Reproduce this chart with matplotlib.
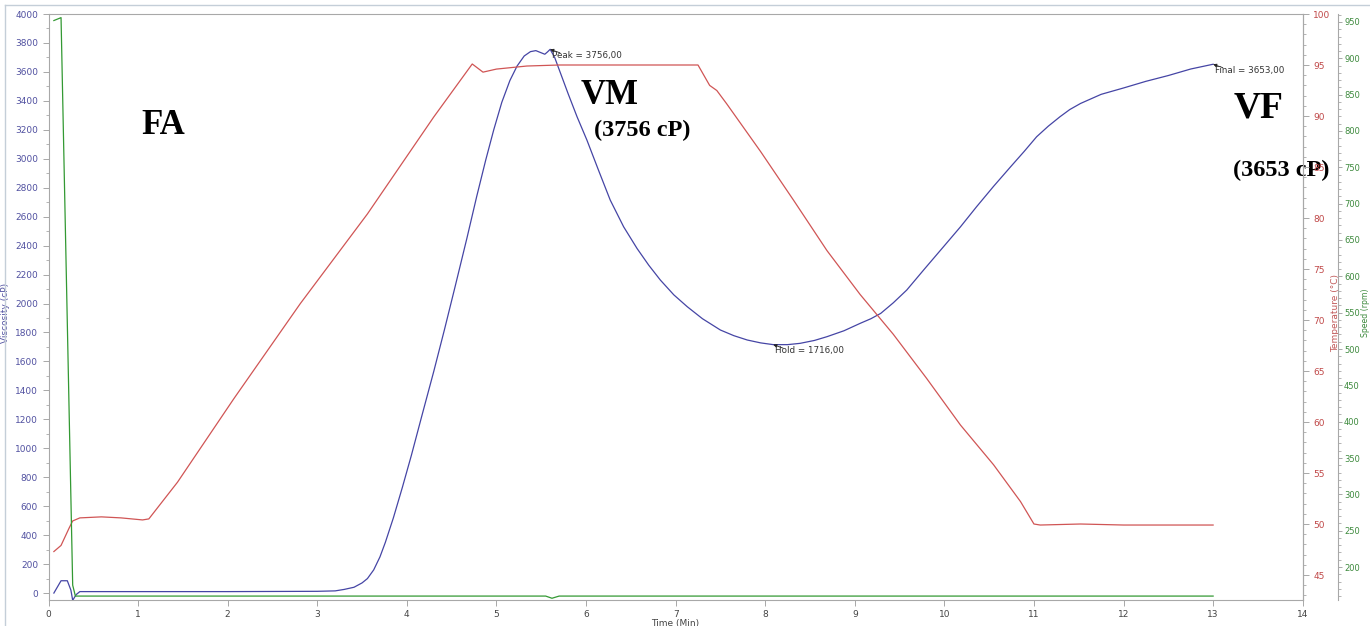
import matplotlib
matplotlib.use("Agg")
import matplotlib.pyplot as plt
from matplotlib.lines import Line2D
from matplotlib.ticker import MultipleLocator, AutoMinorLocator

# viscosity curve (cP) vs time (min)
visc_t = [0.06, 0.14, 0.21, 0.25, 0.27, 0.31, 0.35, 1.0, 2.0, 3.0, 3.2, 3.3, 3.41,
          3.5, 3.56, 3.63, 3.7, 3.76, 3.85, 3.95, 4.05, 4.17, 4.30, 4.42, 4.54, 4.67,
          4.78, 4.88, 4.97, 5.06, 5.15, 5.23, 5.31, 5.38, 5.44, 5.50, 5.54, 5.57, 5.60,
          5.65, 5.71, 5.80, 5.90, 6.01, 6.14, 6.27, 6.42, 6.57, 6.70, 6.83, 6.98, 7.13,
          7.30, 7.50, 7.65, 7.80, 7.95, 8.09, 8.25, 8.39, 8.55, 8.69, 8.88, 9.06, 9.18,
          9.29, 9.43, 9.58, 9.78, 9.99, 10.18, 10.36, 10.55, 10.74, 10.89, 11.03, 11.16,
          11.29, 11.40, 11.52, 11.75, 12.0, 12.25, 12.5, 12.75, 13.0]
visc_v = [0, 85, 85, 20, -50, -10, 10, 10, 10, 12, 15, 25, 40,
          70, 100, 160, 250, 350, 520, 730, 950, 1230, 1530, 1820, 2120, 2450,
          2740, 2990, 3200, 3390, 3540, 3640, 3710, 3740, 3747, 3732, 3722, 3738, 3756,
          3700, 3600, 3450, 3290, 3129, 2920, 2715, 2530, 2380, 2265, 2162, 2060, 1978,
          1895, 1817, 1778, 1748, 1728, 1716, 1716, 1725, 1745, 1771, 1812, 1863, 1895,
          1932, 2005, 2093, 2240, 2392, 2530, 2669, 2810, 2945, 3050, 3152, 3225,
          3290, 3340, 3382, 3445, 3489, 3535, 3575, 3620, 3653]

# temperature (°C)
temp_t = [0.06, 0.14, 0.23, 0.27, 0.35, 0.59, 0.81, 1.05, 1.12, 1.44, 2.07, 2.81,
          3.56, 4.30, 4.73, 4.85, 5.0, 5.34, 5.7, 6.5, 7.25, 7.38, 7.46, 7.57, 7.95,
          8.32, 8.69, 9.06, 9.43, 9.80, 10.18, 10.55, 10.85, 11.0, 11.07, 11.52,
          12.0, 12.5, 13.0]
temp_v = [47.3, 47.9, 49.6, 50.3, 50.6, 50.7, 50.6, 50.4, 50.5, 54.1, 62.3, 71.6,
          80.4, 89.9, 95.1, 94.3, 94.6, 94.9, 95.0, 95.0, 95.0, 93.0, 92.5, 91.2, 86.5,
          81.7, 76.8, 72.5, 68.6, 64.3, 59.7, 55.8, 52.2, 50.0, 49.9, 50.0,
          49.9, 49.9, 49.9]

# paddle speed (rpm)
speed_t = [0.06, 0.14, 0.27, 0.30, 5.55, 5.62, 5.70, 13.0]
speed_v = [952, 956, 175, 160, 160, 157, 160, 160]

# marked points
marks = [("Peak", 5.60, 3756), ("Hold", 8.09, 1716), ("Final", 13.0, 3653)]

BLUE = "#4545a5"
RED = "#d05555"
GREEN = "#339933"
GRID = "#a8a8a8"

fig = plt.figure(figsize=(13.7, 6.26), dpi=100)
ax = fig.add_axes([48.5 / 1370, 26 / 626, 1254.2 / 1370, 586 / 626])
ax2 = ax.twinx()
ax3 = ax.twinx()

ax.plot(visc_t, visc_v, color=BLUE, lw=0.9, zorder=3)
ax2.plot(temp_t, temp_v, color=RED, lw=0.9)
ax3.plot(speed_t, speed_v, color=GREEN, lw=0.9)

ax.set_xlim(0, 14)
ax.set_ylim(-48, 4000)
ax2.set_ylim(42.55, 100)
ax3.set_ylim(154.6, 961)

ax.xaxis.set_major_locator(MultipleLocator(1))
ax.yaxis.set_major_locator(MultipleLocator(200))
ax.yaxis.set_minor_locator(AutoMinorLocator(2))
ax2.yaxis.set_major_locator(MultipleLocator(5))
ax2.yaxis.set_minor_locator(AutoMinorLocator(5))
ax3.yaxis.set_major_locator(MultipleLocator(50))
ax3.yaxis.set_minor_locator(AutoMinorLocator(5))

for a in (ax, ax2, ax3):
    for s in a.spines.values():
        s.set_color(GRID)
        s.set_linewidth(0.8)
for a in (ax2, ax3):
    for k in ("left", "top", "bottom"):
        a.spines[k].set_visible(False)
ax3.spines["right"].set_position(("axes", 1.0285))

ax.tick_params(axis="x", colors=GRID, labelcolor="#444444", labelsize=6.5, length=4, width=0.7)
ax.tick_params(axis="y", which="major", colors=GRID, labelcolor="#5050a0", labelsize=6.5, length=4, width=0.7)
ax.tick_params(axis="y", which="minor", colors=GRID, length=2, width=0.6)
ax2.tick_params(axis="y", which="major", colors=GRID, labelcolor="#c04848", labelsize=6.5, length=4, width=0.7)
ax2.tick_params(axis="y", which="minor", colors=GRID, length=2, width=0.6)
ax3.tick_params(axis="y", which="major", colors=GRID, labelcolor="#3d8a3d", labelsize=6.0, length=3, width=0.7, pad=1)
ax3.tick_params(axis="y", which="minor", colors=GRID, length=2, width=0.6)

ax.set_xlabel("Time (Min)", fontsize=6.5, color="#444444")
ax.xaxis.set_label_coords(0.5, -0.033)
ax.set_ylabel("Viscosity (cP)", fontsize=6.5, color="#5050a0")
ax.yaxis.set_label_coords(-0.031, 0.49)
ax2.set_ylabel("Temperature (°C)", fontsize=6.5, color="#c05858")
ax2.yaxis.set_label_coords(1.0225, 0.49)
ax3.set_ylabel("Speed (rpm)", fontsize=5.6, color="#3d8a3d")
ax3.yaxis.set_label_coords(1.0463, 0.49)

# cursor-style markers with their values
for name, t, v in marks:
    ax.annotate("", xy=(t, v), xytext=(7, -2.5), textcoords="offset points",
                arrowprops=dict(arrowstyle="-|>", lw=0.6, color="#222222",
                                shrinkA=0, shrinkB=0, mutation_scale=5))
    ax.annotate(f"{name} = {v},00", xy=(t, v), xytext=(1.5, -4.2), textcoords="offset points",
                ha="left", va="center", fontsize=6.3, color="#333333")

serif = dict(family="Liberation Serif", fontweight="bold", color="black", ha="center", va="center")
ax.text(1.28, 3233, "FA", fontsize=25, **serif)
ax.text(6.26, 3440, "VM", fontsize=25, **serif)
ax.text(6.63, 3195, "(3756 cP)", fontsize=17.5, **serif)
ax.text(13.51, 3350, "VF", fontsize=27, **serif)
ax.text(13.76, 2922, "(3653 cP)", fontsize=17.5, **serif)

# thin outer frame of the original screenshot
fig.add_artist(Line2D([5 / 1370, 1], [1 - 5 / 626, 1 - 5 / 626], color="#c4ced8", lw=1))
fig.add_artist(Line2D([5 / 1370, 5 / 1370], [0, 1 - 5 / 626], color="#c4ced8", lw=1))

fig.savefig("out.png", dpi=100)
